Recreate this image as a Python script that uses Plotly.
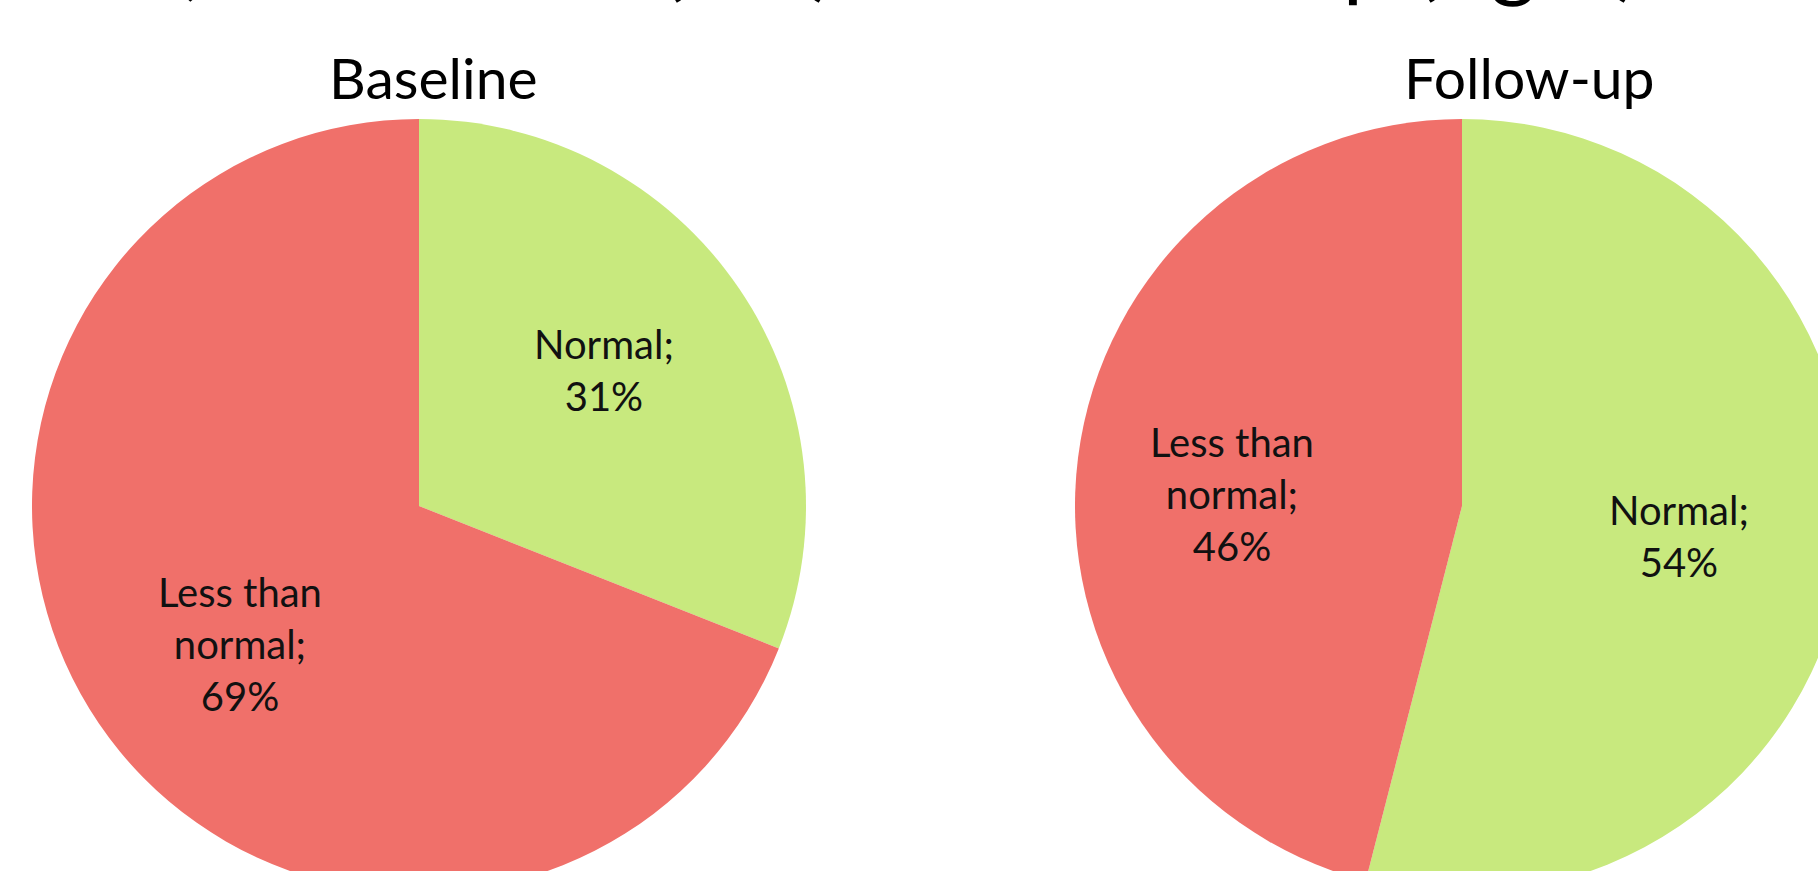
import math
import plotly.graph_objects as go

# ---- data ----
categories = ["Normal", "Less than normal"]
label_lines = ["Normal;", "Less than<br>normal;"]
baseline_values = [31, 69]
followup_values = [54, 46]
panel_titles = ["Baseline", "Follow-up"]
colors = ["#C8E97E", "#F0706A"]
top_title = "Results, at baseline (left) and follow-up (right)"

# ---- layout geometry (pixels) ----
W, H = 1850, 895
R = 387
centers = [(419, 506), (1462, 506)]
title_pos = [(433, 77), (1529, 77)]
label_frac = 0.585
# per-label pixel nudges (dx, dy), one list per pie
label_nudges = [[(-2, -9), (8, 11)], [(-8, 2), (-5, 16)]]

fig = go.Figure()
annotations = []

for values, (cx, cy), title, (tx, ty), nudges in zip(
    [baseline_values, followup_values], centers, panel_titles, title_pos, label_nudges
):
    fig.add_trace(
        go.Pie(
            labels=categories,
            values=values,
            sort=False,
            direction="clockwise",
            rotation=0,
            marker=dict(colors=colors, line=dict(width=0)),
            textinfo="none",
            hoverinfo="label+percent",
            domain=dict(
                x=[(cx - R) / W, (cx + R) / W],
                y=[1 - (cy + R) / H, 1 - (cy - R) / H],
            ),
            showlegend=False,
        )
    )
    total = sum(values)
    cum = 0
    for v, lab, (ndx, ndy) in zip(values, label_lines, nudges):
        mid = (cum + v / 2) / total * 2 * math.pi
        cum += v
        px = cx + label_frac * R * math.sin(mid) + ndx
        py = cy - label_frac * R * math.cos(mid) + ndy
        pct = round(v / total * 100)
        annotations.append(
            dict(
                x=px / W, y=1 - py / H, xref="paper", yref="paper",
                text=f"{lab}<br>{pct}%", showarrow=False,
                xanchor="center", yanchor="middle",
                font=dict(family="Lato", size=40, color="#111111"),
            )
        )
    annotations.append(
        dict(
            x=tx / W, y=1 - ty / H, xref="paper", yref="paper",
            text=title, showarrow=False, xanchor="center", yanchor="middle",
            font=dict(family="Lato", size=57, color="#000000"),
        )
    )

annotations.append(
    dict(
        x=1642 / W, y=1, xref="paper", yref="paper", yshift=-11,
        text=top_title, showarrow=False, xanchor="right", yanchor="bottom",
        font=dict(family="Lato", size=88, color="#000000"),
    )
)

fig.update_layout(
    width=W, height=H,
    margin=dict(l=0, r=0, t=0, b=0),
    paper_bgcolor="white", plot_bgcolor="white",
    annotations=annotations,
)

fig.write_html(
    "out.html",
    post_script=(
        "document.documentElement.style.overflow='hidden';"
        "document.body.style.overflow='hidden';"
        "document.body.style.margin='0';"
    ),
)
